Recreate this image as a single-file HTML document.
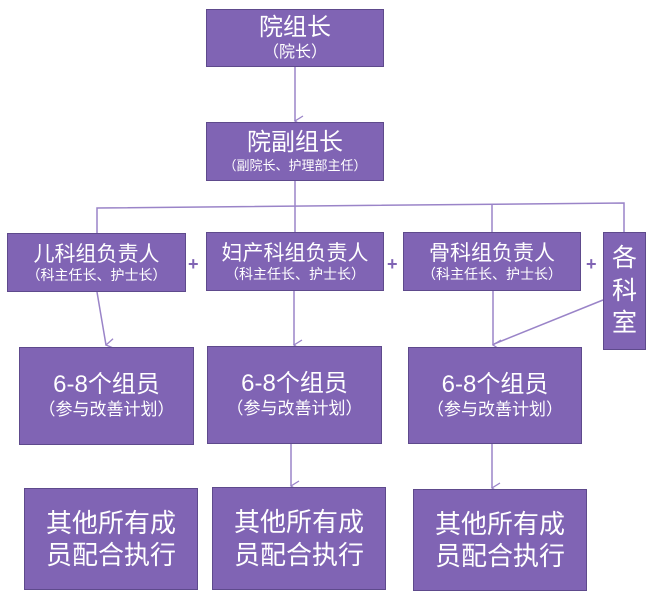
<!DOCTYPE html>
<html><head><meta charset="utf-8"><style>
body{margin:0;width:654px;height:603px;background:#fff;position:relative;overflow:hidden;font-family:"Liberation Sans","Noto Sans CJK SC",sans-serif;}
.b{position:absolute;box-sizing:border-box;background:#8064b4;border:1.5px solid #5e4a8c;color:#fff;display:flex;flex-direction:column;align-items:center;justify-content:center;text-align:center;line-height:1.2;}
.p{position:absolute;color:#8064b4;font-weight:bold;font-size:18px;line-height:18px;}
svg{position:absolute;left:0;top:0;}
</style></head><body>
<svg width="654" height="603">
<defs><marker id="a" markerWidth="12" markerHeight="12" refX="6" refY="10" orient="auto" markerUnits="userSpaceOnUse"><path d="M1,2 L6,10 L11,2" fill="none" stroke="#9a84c8" stroke-width="1.3"/></marker></defs>
<g stroke="#9a84c8" stroke-width="1.5" fill="none">
<line x1="295" y1="67" x2="295" y2="121" marker-end="url(#a)"/>
<line x1="295" y1="181" x2="295" y2="232"/>
<polyline points="97,233 97,208 624,203 624,232"/>
<line x1="492" y1="205" x2="492" y2="232"/>
<line x1="97" y1="292" x2="106" y2="345" marker-end="url(#a)"/>
<line x1="294" y1="291" x2="294" y2="345" marker-end="url(#a)"/>
<line x1="493" y1="291" x2="493" y2="345" marker-end="url(#a)"/>
<line x1="603" y1="300" x2="494" y2="344"/>
<line x1="291" y1="444" x2="291" y2="486" marker-end="url(#a)"/>
<line x1="492" y1="444" x2="492" y2="488" marker-end="url(#a)"/>
</g></svg>
<div class="b" style="left:206px;top:9px;width:178px;height:58px"><div style="font-size:24px">院组长</div><div style="font-size:16px">（院长）</div></div>
<div class="b" style="left:206px;top:122px;width:178px;height:59px"><div style="font-size:24px">院副组长</div><div style="font-size:13px">（副院长、护理部主任）</div></div>
<div class="b" style="left:7px;top:233px;width:179px;height:59px"><div style="font-size:21px">儿科组负责人</div><div style="font-size:14px">（科主任长、护士长）</div></div>
<div class="b" style="left:206px;top:232px;width:178px;height:59px"><div style="font-size:21px">妇产科组负责人</div><div style="font-size:14px">（科主任长、护士长）</div></div>
<div class="b" style="left:403px;top:232px;width:178px;height:59px"><div style="font-size:21px">骨科组负责人</div><div style="font-size:14px">（科主任长、护士长）</div></div>
<div class="b" style="left:603px;top:232px;width:43px;height:118px;font-size:25px;line-height:1.3"><div>各<br>科<br>室</div></div>
<div class="p" style="left:188px;top:255px">+</div>
<div class="p" style="left:387px;top:255px">+</div>
<div class="p" style="left:586px;top:255px">+</div>
<div class="b" style="left:19px;top:347px;width:175px;height:98px"><div style="font-size:24px">6-8个组员</div><div style="font-size:17px">（参与改善计划）</div></div>
<div class="b" style="left:207px;top:346px;width:175px;height:98px"><div style="font-size:24px">6-8个组员</div><div style="font-size:17px">（参与改善计划）</div></div>
<div class="b" style="left:408px;top:347px;width:174px;height:97px"><div style="font-size:24px">6-8个组员</div><div style="font-size:17px">（参与改善计划）</div></div>
<div class="b" style="left:24px;top:488px;width:174px;height:102px;font-size:26px;line-height:1.25"><div>其他所有成<br>员配合执行</div></div>
<div class="b" style="left:212px;top:487px;width:174px;height:103px;font-size:26px;line-height:1.25"><div>其他所有成<br>员配合执行</div></div>
<div class="b" style="left:413px;top:489px;width:174px;height:102px;font-size:26px;line-height:1.25"><div>其他所有成<br>员配合执行</div></div>
</body></html>
